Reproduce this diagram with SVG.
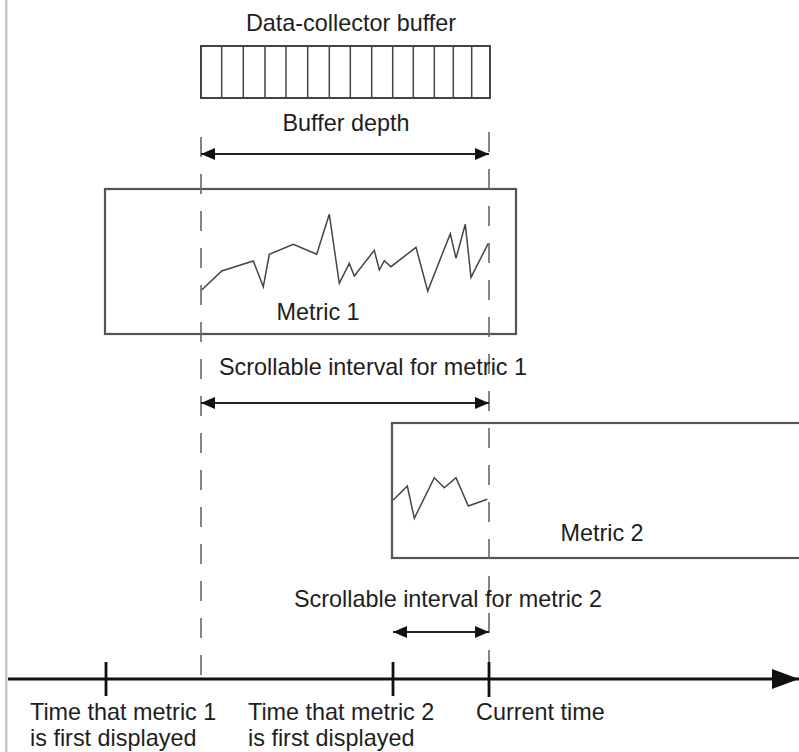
<svg xmlns="http://www.w3.org/2000/svg" width="799" height="752" viewBox="0 0 799 752">
<style>
text{font-family:"Liberation Sans",Arial,sans-serif;font-size:23.4px;fill:#1e1e1e}
.box{fill:#fff;stroke:#555;stroke-width:2.2}
.dash{fill:none;stroke:#666;stroke-width:1.6;stroke-dasharray:20 17}
.dim{fill:none;stroke:#222;stroke-width:2;marker-start:url(#ah);marker-end:url(#ah)}
.trace{fill:none;stroke:#444;stroke-width:1.5;stroke-linejoin:miter}
.tick{stroke:#111;stroke-width:2.8}
</style>
<defs>
<marker id="ah" viewBox="0 0 14 12" refX="14" refY="6" markerWidth="14" markerHeight="12" markerUnits="userSpaceOnUse" orient="auto-start-reverse">
<path d="M0,0 L14,6 L0,12 Z" fill="#111"/>
</marker>
<marker id="axh" viewBox="0 0 27 20" refX="27" refY="10" markerWidth="27" markerHeight="20" markerUnits="userSpaceOnUse" orient="auto">
<path d="M0,0 L27,10 L0,20 Z" fill="#111"/>
</marker>
</defs>
<rect x="0" y="0" width="799" height="752" fill="#fff"/>
<rect x="5" y="0" width="2.5" height="752" fill="#c8c8c8"/>

<g id="buffer">
<text x="351" y="31" text-anchor="middle">Data-collector buffer</text>
<rect x="201" y="46" width="289" height="52" fill="#fff" stroke="#444" stroke-width="2"/>
<path d="M221.7,46V98M243.3,46V98M265,46V98M286,46V98M307.7,46V98M329.3,46V98M350.3,46V98M371.7,46V98M392.7,46V98M413.3,46V98M434.3,46V98M453.3,46V98M471.7,46V98" stroke="#444" stroke-width="1.5"/>
</g>

<g id="metric1">
<rect class="box" x="105" y="189" width="411" height="145"/>
<polyline class="trace" points="201.7,290 221.7,271 253.3,261 263.3,286.7 269.3,254.3 293.3,244.3 316.7,254.3 329.3,214.3 339.3,283.3 349.3,263.3 354.3,276 374.3,250.3 379.3,270 384.3,260.7 391,266.7 416,247.3 427.7,291 450.3,233.7 456,258.3 465.3,224.3 471,277.3 488.3,243.3"/>
<text x="318" y="320" text-anchor="middle">Metric 1</text>
</g>

<g id="metric2">
<rect class="box" x="392" y="423" width="420" height="135"/>
<polyline class="trace" points="393.3,500 407.3,486 414.3,518.3 434.3,477.7 444.3,487.7 456,477.7 468.3,506 487.3,499.3"/>
<text x="602" y="541" text-anchor="middle">Metric 2</text>
</g>

<g id="axis">
<line x1="8" y1="679" x2="799" y2="679" stroke="#111" stroke-width="3" marker-end="url(#axh)"/>
<line class="tick" x1="106" y1="662" x2="106" y2="696"/>
<line class="tick" x1="393" y1="662" x2="393" y2="696"/>
<line class="tick" x1="489" y1="662" x2="489" y2="697"/>
<text x="30" y="720">Time that metric 1</text>
<text x="30" y="746">is first displayed</text>
<text x="248" y="720">Time that metric 2</text>
<text x="248" y="746">is first displayed</text>
<text x="476" y="720">Current time</text>
</g>

<g id="connectors">
<line class="dash" x1="201" y1="137" x2="201" y2="678"/>
<line class="dash" x1="489" y1="132" x2="489" y2="662"/>
<line class="dim" x1="201" y1="154" x2="489" y2="154"/>
<line class="dim" x1="201" y1="403" x2="489" y2="403"/>
<line class="dim" x1="393" y1="632" x2="489" y2="632"/>
<text x="346" y="131" text-anchor="middle">Buffer depth</text>
<text x="373" y="375" text-anchor="middle">Scrollable interval for metric 1</text>
<text x="448" y="607" text-anchor="middle">Scrollable interval for metric 2</text>
</g>
</svg>
